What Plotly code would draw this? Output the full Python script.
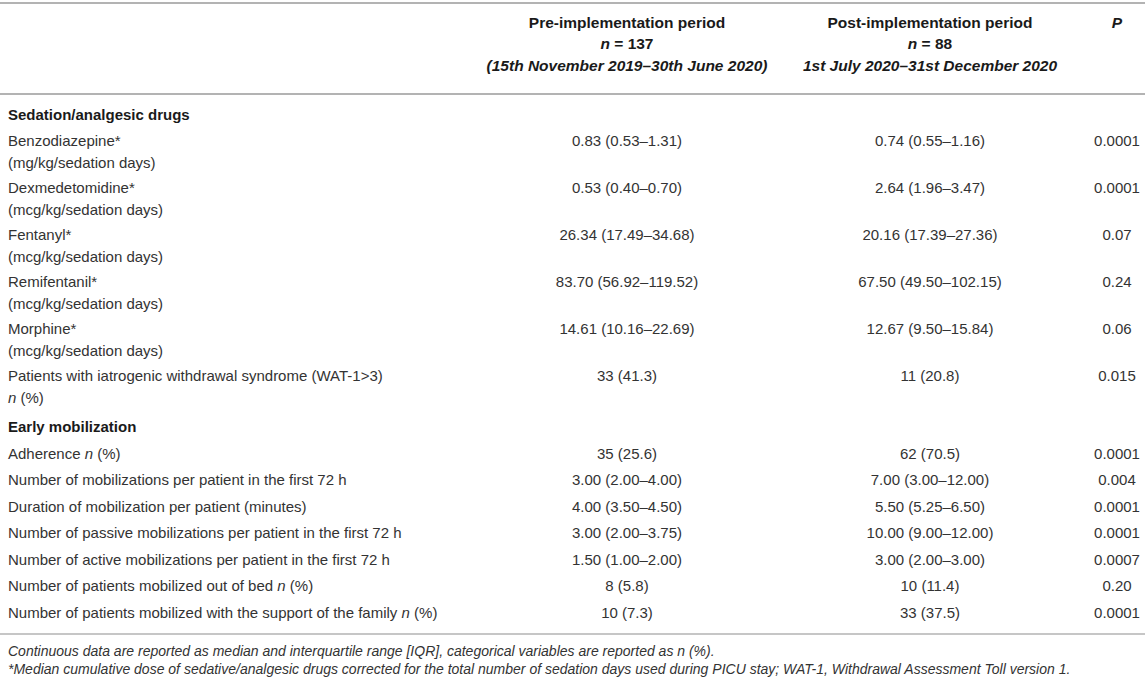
import plotly.graph_objects as go

# ---- table content ----
col_titles = ["Pre-implementation period", "Post-implementation period"]
col_n = ["<i>n</i> = 137", "<i>n</i> = 88"]
col_dates = ["(15th November 2019–30th June 2020)", "1st July 2020–31st December 2020"]
p_title = "P"

variables = [
    "Sedation/analgesic drugs",
    "Benzodiazepine*<br>(mg/kg/sedation days)",
    "Dexmedetomidine*<br>(mcg/kg/sedation days)",
    "Fentanyl*<br>(mcg/kg/sedation days)",
    "Remifentanil*<br>(mcg/kg/sedation days)",
    "Morphine*<br>(mcg/kg/sedation days)",
    "Patients with iatrogenic withdrawal syndrome (WAT-1>3)<br><i>n</i> (%)",
    "Early mobilization",
    "Adherence <i>n</i> (%)",
    "Number of mobilizations per patient in the first 72 h",
    "Duration of mobilization per patient (minutes)",
    "Number of passive mobilizations per patient in the first 72 h",
    "Number of active mobilizations per patient in the first 72 h",
    "Number of patients mobilized out of bed <i>n</i> (%)",
    "Number of patients mobilized with the support of the family <i>n</i> (%)",
]
is_group = [True, False, False, False, False, False, False,
            True, False, False, False, False, False, False, False]

pre_vals = ["", "0.83 (0.53–1.31)", "0.53 (0.40–0.70)", "26.34 (17.49–34.68)",
            "83.70 (56.92–119.52)", "14.61 (10.16–22.69)", "33 (41.3)", "",
            "35 (25.6)", "3.00 (2.00–4.00)", "4.00 (3.50–4.50)", "3.00 (2.00–3.75)",
            "1.50 (1.00–2.00)", "8 (5.8)", "10 (7.3)"]
post_vals = ["", "0.74 (0.55–1.16)", "2.64 (1.96–3.47)", "20.16 (17.39–27.36)",
             "67.50 (49.50–102.15)", "12.67 (9.50–15.84)", "11 (20.8)", "",
             "62 (70.5)", "7.00 (3.00–12.00)", "5.50 (5.25–6.50)", "10.00 (9.00–12.00)",
             "3.00 (2.00–3.00)", "10 (11.4)", "33 (37.5)"]
p_vals = ["", "0.0001", "0.0001", "0.07", "0.24", "0.06", "0.015", "",
          "0.0001", "0.004", "0.0001", "0.0001", "0.0007", "0.20", "0.0001"]

footnotes = [
    "Continuous data are reported as median and interquartile range [IQR], categorical variables are reported as n (%).",
    "*Median cumulative dose of sedative/analgesic drugs corrected for the total number of sedation days used during PICU stay; WAT-1, Withdrawal Assessment Toll version 1.",
]

# ---- layout constants (pixels) ----
W, H = 1145, 683
X_LABEL, X_PRE, X_POST, X_P = 8, 627, 930, 1117
HEAD_Y = [24, 45, 67]
FIRST_Y = 116
ROW_H = 26.5
EXTRA_LINE = 20.5
LINE_GAP = 22
GROUP_GAP = 4
RULES = [(3, 2), (94, 2), (634, 1.5)]
FOOT_Y, FOOT_GAP = 652, 18
FONT = "Liberation Sans, Arial, sans-serif"
BODY_COLOR = "#333333"
HEAD_COLOR = "#1a1a1a"

label_y, label_text, label_color, row_y = [], [], [], []
y = FIRST_Y
for i, lab in enumerate(variables):
    if is_group[i] and i > 0:
        y += GROUP_GAP
    lines = lab.split("<br>")
    for j, ln in enumerate(lines):
        label_y.append(y + j * LINE_GAP)
        label_text.append(f"<b>{ln}</b>" if is_group[i] else ln)
        label_color.append(HEAD_COLOR if is_group[i] else BODY_COLOR)
    row_y.append(y)
    y += ROW_H + EXTRA_LINE * (len(lines) - 1)

fig = go.Figure()

# row labels
fig.add_trace(go.Scatter(
    x=[X_LABEL] * len(label_y), y=label_y, text=label_text,
    mode="text", textposition="middle right", hoverinfo="skip",
    textfont=dict(family=FONT, size=15, color=label_color)))

# value columns
for xc, vals in [(X_PRE, pre_vals), (X_POST, post_vals), (X_P, p_vals)]:
    fig.add_trace(go.Scatter(
        x=[xc] * len(vals), y=row_y, text=vals,
        mode="text", textposition="middle center", hoverinfo="skip",
        textfont=dict(family=FONT, size=15, color=BODY_COLOR)))

# column headers
head_text = []
head_x = []
head_y = []
for k, xc in enumerate([X_PRE, X_POST]):
    for line, yy in zip([col_titles[k], col_n[k], f"<i>{col_dates[k]}</i>"], HEAD_Y):
        head_text.append(f"<b>{line}</b>")
        head_x.append(xc)
        head_y.append(yy)
head_text.append(f"<b><i>{p_title}</i></b>")
head_x.append(X_P)
head_y.append(HEAD_Y[0])
fig.add_trace(go.Scatter(
    x=head_x, y=head_y, text=head_text,
    mode="text", textposition="middle center", hoverinfo="skip",
    textfont=dict(family=FONT, size=15.5, color=HEAD_COLOR)))

# footnotes
fig.add_trace(go.Scatter(
    x=[X_LABEL] * len(footnotes),
    y=[FOOT_Y + k * FOOT_GAP for k in range(len(footnotes))],
    text=[f"<i>{f}</i>" for f in footnotes],
    mode="text", textposition="middle right", hoverinfo="skip",
    textfont=dict(family=FONT, size=14, color=BODY_COLOR)))

for yy, lw in RULES:
    fig.add_shape(type="line", x0=0, x1=W, y0=yy, y1=yy, xref="x", yref="y",
                  line=dict(color="#b3b3b3", width=lw))

fig.update_layout(
    width=W, height=H,
    margin=dict(l=0, r=0, t=0, b=0),
    paper_bgcolor="white", plot_bgcolor="white",
    showlegend=False,
    xaxis=dict(range=[0, W], visible=False, fixedrange=True),
    yaxis=dict(range=[H, 0], visible=False, fixedrange=True),
)

# drop the default page margin so the figure sits at the window's corner
fig.write_html("out.html", config={"displayModeBar": False},
               post_script="document.body.style.margin='0';document.body.style.overflow='hidden';")
